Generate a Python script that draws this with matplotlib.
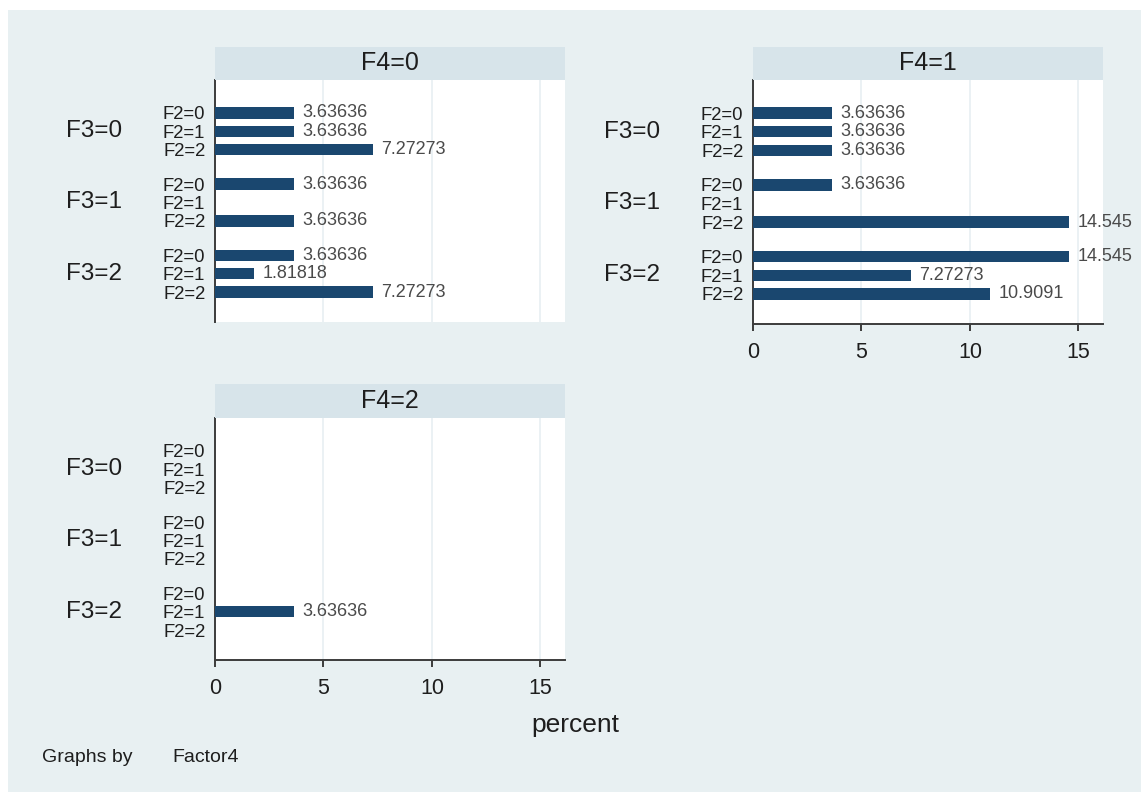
import matplotlib
matplotlib.use("Agg")
import matplotlib.pyplot as plt
from matplotlib.patches import Rectangle

plt.rcParams['font.family'] = ['Liberation Sans', 'DejaVu Sans']

# ---- data: percent of observations by Factor4 / Factor3 / Factor2 ----
facet_titles = ["F4=0", "F4=1", "F4=2"]
group_labels = ["F3=0", "F3=1", "F3=2"]
row_labels = ["F2=0", "F2=1", "F2=2"]

# None marks an empty cell (no bar, no label)
pct_f4_0 = [[3.63636, 3.63636, 7.27273],
            [3.63636, None, 3.63636],
            [3.63636, 1.81818, 7.27273]]
pct_f4_1 = [[3.63636, 3.63636, 3.63636],
            [3.63636, None, 14.545],
            [14.545, 7.27273, 10.9091]]
pct_f4_2 = [[None, None, None],
            [None, None, None],
            [None, 3.63636, None]]
panels = [pct_f4_0, pct_f4_1, pct_f4_2]

x_ticks = [0, 5, 10, 15]
x_title = "percent"
note_lead = "Graphs by"
note_var = "Factor4"

# ---- style ----
W, H = 1141, 792
BG = "#E8F0F2"
STRIP = "#D7E4EA"
BAR = "#1A476F"
GRID = "#E8EFF2"
AXIS = "#3C3C3C"
TXT = "#1E1E1E"
VAL = "#4A4A4A"

fig = plt.figure(figsize=(W / 100, H / 100), dpi=100, facecolor="white")
fig.patches.append(Rectangle((8 / W, 0), 1 - 8 / W, 1 - 10 / H,
                             transform=fig.transFigure, facecolor=BG,
                             edgecolor="none", zorder=-10))


def rect(x0, y0, x1, y1):
    return [x0 / W, 1 - y1 / H, (x1 - x0) / W, (y1 - y0) / H]


# plot-area boxes (pixels) and whether the panel shows its x axis
layout = [
    ((215, 80, 565, 322), (215, 47, 565, 80), False),
    ((753, 80, 1103, 324), (753, 47, 1103, 80), True),
    ((215, 418, 565, 660), (215, 384, 565, 418), True),
]

group_step = 3.86
bar_h = 0.62
xmax = 16.13

for data, title, (box, sbox, show_x) in zip(panels, facet_titles, layout):
    ax = fig.add_axes(rect(*box))
    ax.set_facecolor("white")
    pos, vals, labs = [], [], []
    for g, row in enumerate(data):
        for i, v in enumerate(row):
            pos.append(g * group_step + i)
            labs.append(row_labels[i])
            vals.append(v)
    for p, v in zip(pos, vals):
        if v is None:
            continue
        ax.barh(p, v, height=bar_h, color=BAR, zorder=3)
        ax.annotate(f"{v:g}", (v, p), xytext=(6.2, 0), textcoords="offset points",
                    ha="left", va="center", fontsize=13, color=VAL,
                    annotation_clip=False, zorder=4)
    ax.set_xlim(0, xmax)
    ax.set_ylim(2 * group_step + 2 + 1.62, -1.78)
    ax.set_yticks(pos, labs)
    ax.tick_params(axis="y", length=0, pad=7, labelsize=13.3, labelcolor=TXT)
    for g, gl in enumerate(group_labels):
        ax.annotate(gl, (0, g * group_step + 1), xycoords=ax.get_yaxis_transform(),
                    xytext=(-67, 0), textcoords="offset points",
                    ha="right", va="center", fontsize=17.5, color=TXT)
    ax.set_xticks(x_ticks)
    ax.grid(axis="x", color=GRID, linewidth=1.2, zorder=0)
    ax.grid(axis="y", visible=False)
    for s in ("top", "right"):
        ax.spines[s].set_visible(False)
    ax.spines["left"].set_color(AXIS)
    ax.spines["left"].set_linewidth(1.4)
    if show_x:
        ax.spines["bottom"].set_color(AXIS)
        ax.spines["bottom"].set_linewidth(1.4)
        ax.tick_params(axis="x", length=5, width=1.4, color=AXIS, pad=8,
                       labelsize=15.5, labelcolor=TXT)
    else:
        ax.spines["bottom"].set_visible(False)
        ax.tick_params(axis="x", length=0, labelbottom=False)

    sax = fig.add_axes(rect(*sbox))
    sax.set_facecolor(STRIP)
    sax.set_xticks([])
    sax.set_yticks([])
    for s in sax.spines.values():
        s.set_visible(False)
    sax.text(0.5, 0.5, title, transform=sax.transAxes, ha="center", va="center",
             fontsize=18, color=TXT)

fig.text(575 / W, 1 - 725 / H, x_title, ha="center", va="center",
         fontsize=19, color=TXT)
fig.text(42 / W, 1 - 757 / H, note_lead, ha="left", va="center",
         fontsize=14, color=TXT)
fig.text(172 / W, 1 - 757 / H, note_var, ha="left", va="center",
         fontsize=14, color=TXT)

fig.savefig("out.png", dpi=100, facecolor="white")
